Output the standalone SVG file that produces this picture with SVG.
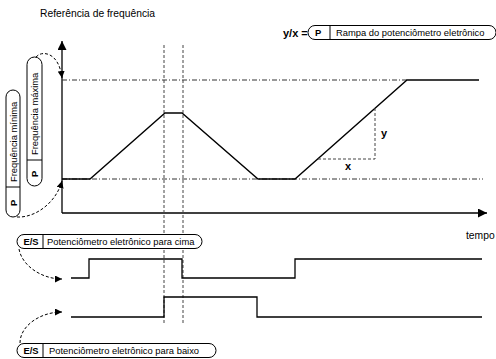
<svg xmlns="http://www.w3.org/2000/svg" width="496" height="359" viewBox="0 0 496 359">
<style>
text{font-family:"Liberation Sans",Arial,sans-serif;fill:#000}
.t{font-size:10.3px}
.p{font-size:9.4px}
.b{font-weight:bold}
.pill{fill:#fff;stroke:#000;stroke-width:1}
.sep{stroke:#000;stroke-width:1}
.sol{fill:none;stroke:#000;stroke-width:1.3}
.dd{fill:none;stroke:#333;stroke-width:1;stroke-dasharray:5 2 1 2}
.dv{fill:none;stroke:#444;stroke-width:1;stroke-dasharray:3 2}
.cur{fill:none;stroke:#000;stroke-width:1;stroke-dasharray:3 2}
</style>
<defs>
<marker id="ah" viewBox="0 0 10 10" refX="10" refY="5" markerWidth="9" markerHeight="9" markerUnits="userSpaceOnUse" orient="auto"><path d="M0,0L10,5L0,10z" fill="#000"/></marker>
<marker id="ahs" viewBox="0 0 10 10" refX="10" refY="5" markerWidth="7" markerHeight="7" markerUnits="userSpaceOnUse" orient="auto"><path d="M0,0L10,5L0,10z" fill="#000"/></marker>
</defs>
<text class="t" x="40" y="17">Referência de frequência</text>
<text class="t" x="466" y="239">tempo</text>
<g id="connectors">
<line x1="62" y1="213" x2="62" y2="41" class="sol" marker-end="url(#ah)"/>
<line x1="62" y1="213" x2="487" y2="213" class="sol" marker-end="url(#ah)"/>
<line x1="62" y1="80" x2="407" y2="80" class="dd"/>
<line x1="62" y1="179" x2="483" y2="179" class="dd"/>
<line x1="164" y1="45" x2="164" y2="325" class="dv"/>
<line x1="183" y1="45" x2="183" y2="325" class="dv"/>
<polyline class="sol" points="62,179 90,179 165,113 182,113 258,179 295,179 407,80 479,80"/>
<polyline class="dv" points="318,159 375,159 375,108"/>
<text class="b" x="381" y="137" font-size="11">y</text>
<text class="b" x="345" y="170" font-size="11">x</text>
<polyline class="sol" points="71,278 89,278 89,259 182,259 182,278 295,278 295,259 482,259"/>
<polyline class="sol" points="71,317 164,317 164,297 257,297 257,317 482,317"/>
<path class="cur" d="M36,57 C42,50 59,52 62,78" marker-end="url(#ahs)"/>
<path class="cur" d="M17,217 C35,218 56,203 62,181" marker-end="url(#ahs)"/>
<path class="cur" d="M19,249 C22,266 42,279 62,279" marker-end="url(#ahs)"/>
<path class="cur" d="M20,343 C20,326 40,312 62,312" marker-end="url(#ahs)"/>
</g>
<g id="ramp">
<text class="b" x="283" y="36.5" font-size="11">y/x =</text>
<rect class="pill" x="308" y="25.5" width="188" height="14" rx="7"/>
<line class="sep" x1="330" y1="25.5" x2="330" y2="39.5"/>
<text class="p b" x="315" y="36">P</text>
<text class="p" x="336" y="36">Rampa do potenciômetro eletrônico</text>
</g>
<g id="fmax">
<rect class="pill" x="27" y="57" width="15" height="129" rx="7.5"/>
<line class="sep" x1="27" y1="160" x2="42" y2="160"/>
<text class="p b" transform="translate(38,177) rotate(-90)">P</text>
<text class="p" transform="translate(38,155) rotate(-90)">Frequência máxima</text>
</g>
<g id="fmin">
<rect class="pill" x="6" y="90" width="14" height="127" rx="7"/>
<line class="sep" x1="6" y1="187" x2="20" y2="187"/>
<text class="p b" transform="translate(16.5,206) rotate(-90)">P</text>
<text class="p" transform="translate(16.5,182) rotate(-90)">Frequência mínima</text>
</g>
<g id="up">
<rect class="pill" x="17" y="234.5" width="185" height="14" rx="7"/>
<line class="sep" x1="43" y1="234.5" x2="43" y2="248.5"/>
<text class="p b" x="23.5" y="244.5">E/S</text>
<text class="p" x="47" y="244.5">Potenciômetro eletrônico para cima</text>
</g>
<g id="down">
<rect class="pill" x="17" y="343.5" width="199" height="14" rx="7"/>
<line class="sep" x1="43" y1="343.5" x2="43" y2="357.5"/>
<text class="p b" x="23.5" y="353.5">E/S</text>
<text class="p" x="49" y="353.5">Potenciômetro eletrônico para baixo</text>
</g>
</svg>
